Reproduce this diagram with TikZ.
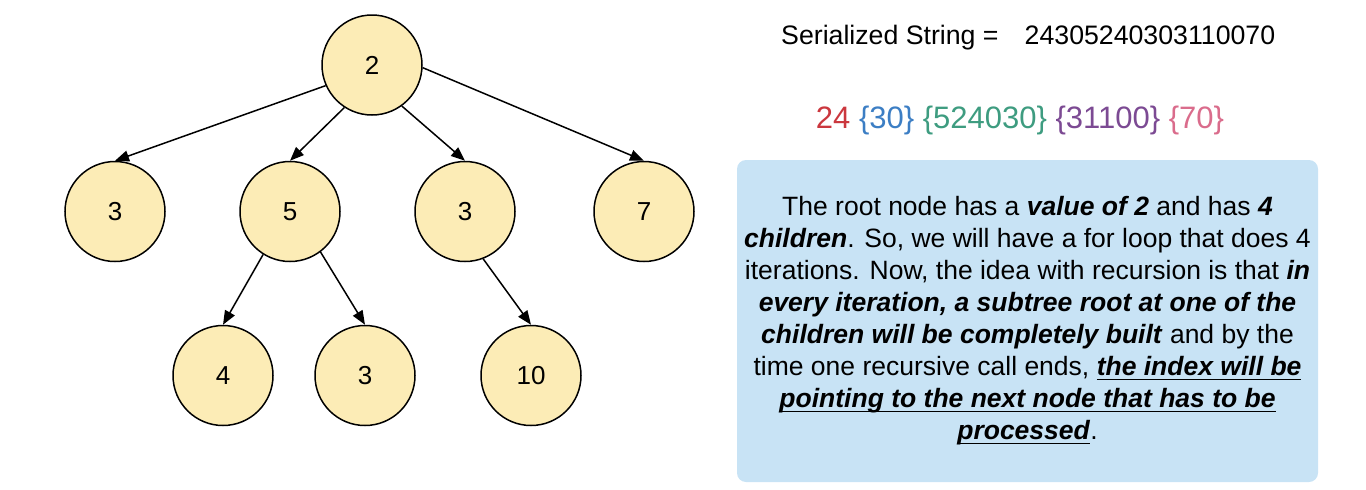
\documentclass[tikz,border=0pt]{standalone}
\usepackage{fontspec}
\setmainfont{Liberation Sans}
\usetikzlibrary{arrows.meta}
\definecolor{nodefill}{RGB}{252,236,182}
\definecolor{boxfill}{RGB}{200,227,245}
\definecolor{cred}{RGB}{203,55,62}
\definecolor{cblue}{RGB}{60,126,196}
\definecolor{cgreen}{RGB}{62,156,128}
\definecolor{cpurple}{RGB}{124,74,147}
\definecolor{cpink}{RGB}{218,108,140}
\newcommand{\bi}[1]{\textbf{\textit{#1}}}
\newsavebox{\myulbox}
\newcommand{\myul}[1]{\sbox{\myulbox}{#1}\rlap{\rule[-4.5pt]{\wd\myulbox}{1.6pt}}\usebox{\myulbox}}
\tikzset{
  treenode/.style={circle, draw=black, line width=1.5pt, fill=nodefill, minimum size=100pt, inner sep=0pt, font=\fontsize{26}{30}\selectfont},
  edge/.style={draw=black, line width=1.5pt, -{Triangle[length=14pt,width=11pt]}},
  infobox/.style={fill=boxfill, rounded corners=9pt, draw=none},
}
\begin{document}
\begin{tikzpicture}[x=1pt,y=-1pt]
\useasboundingbox (0,0) rectangle (1366,490);
% tree
\node[treenode] (r) at (372,65) {2};
\node[treenode] (a) at (115,211.5) {3};
\node[treenode] (b) at (290,211.5) {5};
\node[treenode] (c) at (465,211.5) {3};
\node[treenode] (d) at (644,211.5) {7};
\node[treenode] (e) at (223,375.5) {4};
\node[treenode] (f) at (365,375.5) {3};
\node[treenode] (g) at (531,375.5) {10};
\draw[edge] (r.204) -- (a.north);
\draw[edge] (r.237) -- (b.north);
\draw[edge] (r.306) -- (c.north);
\draw[edge] (r.357) -- (d.north);
\draw[edge] (b.238) -- (e.north);
\draw[edge] (b.307) -- (f.north);
\draw[edge] (c.291) -- (g.north);
% texts
\node[anchor=base west, inner sep=0pt, font=\fontsize{26.7}{32}\selectfont] (title) at (781,44) {Serialized String =\hspace{0.98em}24305240303110070};
\node[anchor=base, inner sep=0pt, font=\fontsize{31}{36}\selectfont] (parts) at (1020,128)
  {\textcolor{cred}{24} \textcolor{cblue}{\{30\}} \textcolor{cgreen}{\{524030\}} \textcolor{cpurple}{\{31100\}} \textcolor{cpink}{\{70\}}};
\path[infobox] (737,160) rectangle (1318,482);
\node[align=center, inner sep=0pt, font=\fontsize{26.5}{32}\selectfont] (desc) at (1027.5,321) {%
The root node has a \bi{value of 2} and has \bi{4}\\
\bi{children}. So, we will have a for loop that does 4\\
iterations. Now, the idea with recursion is that \bi{in}\\
\bi{every iteration, a subtree root at one of the}\\
\bi{children will be completely built} and by the\\
time one recursive call ends, \myul{\bi{the index will be}}\\
\myul{\bi{pointing to the next node that has to be}}\\
\myul{\bi{processed}}.};
\end{tikzpicture}
\end{document}
